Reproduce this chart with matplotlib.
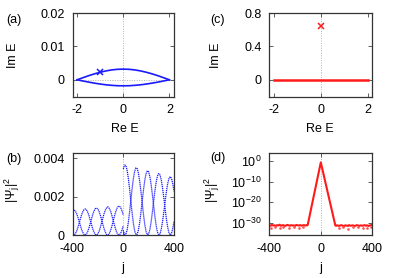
import numpy as np
import matplotlib
matplotlib.use("Agg")
import matplotlib.pyplot as plt
from matplotlib.ticker import FixedLocator, FixedFormatter

plt.rcParams["font.family"] = ["Liberation Sans", "DejaVu Sans"]
plt.rcParams["mathtext.fontset"] = "custom"
plt.rcParams["mathtext.rm"] = "Liberation Sans"
plt.rcParams["mathtext.it"] = "Liberation Sans"
plt.rcParams["mathtext.sf"] = "Liberation Sans"
plt.rcParams["axes.unicode_minus"] = False

# (a) spectrum, blue
re_a = [-2, -1.75, -1.5, -1.25, -1, -0.75, -0.5, -0.25, 0,
        0.25, 0.5, 0.75, 1, 1.25, 1.5, 1.75, 2]
im_a_upper = [0, 0.00062, 0.00123, 0.00178, 0.00226, 0.00266, 0.00296, 0.00314, 0.0032,
              0.00314, 0.00296, 0.00266, 0.00226, 0.00178, 0.00123, 0.00062, 0]
im_a_lower = [0, -0.00035, -0.00069, -0.0010, -0.00127, -0.0015, -0.00166, -0.00177, -0.0018,
              -0.00177, -0.00166, -0.0015, -0.00127, -0.0010, -0.00069, -0.00035, 0]
mark_a = (-1.0, 0.0022)

# (c) spectrum, red
re_c = [-2, 2]
im_c = [0, 0]
mark_c = (0.0, 0.65)

# (b) |psi_j|^2, two interleaved branches on each side
j_left = list(range(-400, 1, 10))
psi_left_1 = [0.00126, 0.00131, 0.00127, 0.00116, 0.00098, 0.00077, 0.00054, 0.00032, 0.00015, 0.00003,
              0.00000, 0.00005, 0.00018, 0.00037, 0.00061, 0.00085, 0.00108, 0.00126, 0.00138, 0.00141,
              0.00136, 0.00122, 0.00102, 0.00078, 0.00053, 0.00031, 0.00013, 0.00002, 0.00000, 0.00008,
              0.00023, 0.00045, 0.00071, 0.00097, 0.00120, 0.00139, 0.00149, 0.00151, 0.00143, 0.00126,
              0.00104]
psi_left_2 = [0.00004, 0.00000, 0.00004, 0.00016, 0.00034, 0.00056, 0.00080, 0.00102, 0.00120, 0.00132,
              0.00136, 0.00131, 0.00119, 0.00101, 0.00077, 0.00054, 0.00031, 0.00014, 0.00003, 0.00000,
              0.00006, 0.00020, 0.00041, 0.00066, 0.00091, 0.00114, 0.00132, 0.00144, 0.00147, 0.00139,
              0.00125, 0.00103, 0.00078, 0.00053, 0.00030, 0.00012, 0.00002, 0.00001, 0.00009, 0.00026,
              0.00049]
j_right = list(range(0, 401, 10))
psi_right_1 = [0.00345, 0.00365, 0.00364, 0.00340, 0.00297, 0.00240, 0.00177, 0.00114, 0.00060, 0.00021,
               0.00002, 0.00004, 0.00027, 0.00068, 0.00122, 0.00181, 0.00238, 0.00287, 0.00321, 0.00336,
               0.00330, 0.00304, 0.00262, 0.00208, 0.00150, 0.00094, 0.00047, 0.00014, 0.00000, 0.00006,
               0.00031, 0.00071, 0.00121, 0.00175, 0.00227, 0.00268, 0.00295, 0.00305, 0.00296, 0.00269,
               0.00228]
psi_right_2 = [0.00025, 0.00003, 0.00003, 0.00025, 0.00066, 0.00121, 0.00183, 0.00244, 0.00296, 0.00333,
               0.00351, 0.00347, 0.00322, 0.00279, 0.00224, 0.00163, 0.00104, 0.00053, 0.00018, 0.00001,
               0.00005, 0.00029, 0.00070, 0.00122, 0.00178, 0.00232, 0.00278, 0.00309, 0.00321, 0.00313,
               0.00287, 0.00245, 0.00193, 0.00137, 0.00084, 0.00041, 0.00012, 0.00000, 0.00008, 0.00033,
               0.00072]

# (d) log10 |psi_j|^2, localized peak on a noise floor
j_d = (list(range(-400, -109, 10)) + [-102, 0, 113] + list(range(120, 401, 10)))
log_psi_d = ([-31.2, -31.5, -31.1, -31.4, -31.3, -31.6, -31.2, -31.4, -31.0, -31.5,
              -31.3, -31.2, -31.6, -31.4, -31.1, -31.3, -31.5, -31.2, -31.4, -31.3,
              -31.6, -31.1, -31.3, -31.4, -31.2, -31.5, -31.3, -31.2, -31.4, -31.3]
             + [-31.2, -0.7, -31.4]
             + [-31.5, -31.3, -31.6, -31.4, -31.2, -31.5, -31.7, -31.3, -31.4, -31.6,
                -31.2, -31.5, -31.4, -31.3, -31.6, -31.5, -31.2, -31.4, -31.6, -31.3,
                -31.5, -31.4, -31.2, -31.5, -31.3, -31.6, -31.4, -31.2, -31.1])
# stray low points of the noise floor
j_d_low = [-385, -352, -318, -290, -247, -205, -171, -138, 142, 176, 214, 251, 289, 326, 358, 391]
log_psi_d_low = [-32.4, -32.1, -32.8, -32.2, -32.5, -32.0, -32.6, -32.3,
                 -32.5, -32.2, -32.9, -32.3, -32.1, -32.6, -32.4, -32.2]

W, H = 397, 278
FS = 9
fig = plt.figure(figsize=(W / 100, H / 100), dpi=100)


def px_axes(x0, y0, x1, y1):
    return fig.add_axes([x0 / W, 1 - y1 / H, (x1 - x0) / W, (y1 - y0) / H])


def style(ax):
    ax.tick_params(direction="in", length=3, width=0.6, top=True, right=True,
                   labelsize=FS, pad=5.5, color="#444444")
    for s in ax.spines.values():
        s.set_linewidth(0.9)
        s.set_color("#333333")


ax_a = px_axes(72.5, 13, 174, 96.5)
ax_c = px_axes(269.3, 13, 372.3, 96.5)
ax_b = px_axes(72.5, 152.7, 174, 235)
ax_d = px_axes(269.3, 152.7, 372.3, 235)

zero_kw = dict(color="#b0b0b0", lw=0.7, ls=(0, (1, 1.5)), zorder=0)

# (a)
ax_a.axvline(0, **zero_kw)
ax_a.axhline(0, **zero_kw)
ax_a.plot(re_a, im_a_upper, color="#1a1aff", lw=1.2)
ax_a.plot(re_a, im_a_lower, color="#1a1aff", lw=1.2)
ax_a.plot(*mark_a, marker="x", color="#1a1aff", ms=4, mew=1.1)
ax_a.set_xlim(-2.2, 2.2)
ax_a.set_ylim(-0.005, 0.02)
ax_a.set_xticks([-2, 0, 2])
ax_a.set_yticks([0, 0.01, 0.02])
ax_a.set_yticklabels(["0", "0.01", "0.02"])
style(ax_a)

# (c)
ax_c.axvline(0, **zero_kw)
ax_c.plot(re_c, im_c, color="#ff1a1a", lw=1.8)
ax_c.plot(*mark_c, marker="x", color="#ff1a1a", ms=4, mew=1.1)
ax_c.set_xlim(-2.2, 2.2)
ax_c.set_ylim(-0.2, 0.8)
ax_c.set_xticks([-2, 0, 2])
ax_c.set_yticks([0, 0.4, 0.8])
ax_c.set_yticklabels(["0", "0.4", "0.8"])
style(ax_c)

# (b)
ax_b.axvline(0, **zero_kw)
dot = dict(color="#1a1aff", lw=0.9, ls=(0, (1, 0.6)))
ax_b.plot(j_left, psi_left_1, **dot)
ax_b.plot(j_left, psi_left_2, **dot)
ax_b.plot(j_right, psi_right_1, **dot)
ax_b.plot(j_right, psi_right_2, **dot)
ax_b.set_xlim(-400, 400)
ax_b.set_ylim(0, 0.0043)
ax_b.set_xticks([-400, 0, 400])
ax_b.set_yticks([0, 0.002, 0.004])
ax_b.set_yticklabels(["0", "0.002", "0.004"])
style(ax_b)

# (d)
ax_d.axvline(0, **zero_kw)
ax_d.plot(j_d, 10.0 ** np.array(log_psi_d), color="#ff1a1a", lw=1.5)
ax_d.plot(j_d_low, 10.0 ** np.array(log_psi_d_low), ls="none", marker="s", ms=0.8,
          color="#ff5050")
ax_d.set_yscale("log")
ax_d.set_xlim(-400, 400)
ax_d.set_ylim(1e-36, 1e4)
ax_d.set_xticks([-400, 0, 400])
ax_d.yaxis.set_major_locator(FixedLocator([1e-30, 1e-20, 1e-10, 1e0]))
ax_d.yaxis.set_major_formatter(FixedFormatter([r"$10^{-30}$", r"$10^{-20}$",
                                               r"$10^{-10}$", r"$10^{0}$"]))
ax_d.yaxis.set_minor_locator(FixedLocator([]))
style(ax_d)

# labels
txt = dict(fontsize=FS, ha="center", va="center")
for x, y, s in [(13.5, 20, "(a)"), (217.5, 20, "(c)"), (14, 159, "(b)"), (217.5, 158.5, "(d)")]:
    fig.text(x / W, 1 - y / H, s, **txt)
for x, y, s in [(124.5, 128.5, "Re E"), (320, 128.5, "Re E"), (123, 268, "j"), (320.5, 268, "j")]:
    fig.text(x / W, 1 - y / H, s, **txt)
fig.text(12.5 / W, 1 - 55 / H, "Im E", rotation=90, **txt)
fig.text(216 / W, 1 - 55 / H, "Im E", rotation=90, **txt)
fig.text(12 / W, 1 - 190 / H, r"$|\Psi_j|^2$", rotation=90, **txt)
fig.text(212 / W, 1 - 190 / H, r"$|\Psi_j|^2$", rotation=90, **txt)

fig.savefig("out.png", dpi=100)
